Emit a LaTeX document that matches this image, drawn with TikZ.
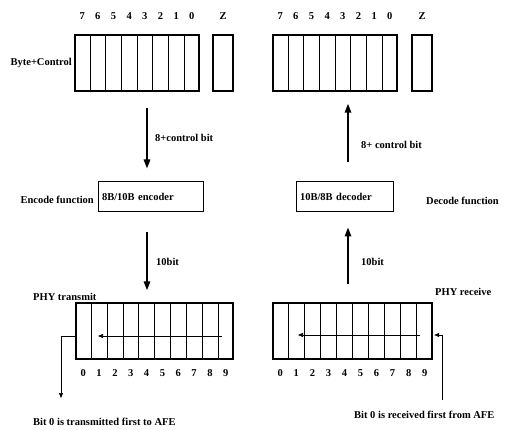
\documentclass[tikz,border=0pt]{standalone}
\usepackage{fontspec}
\setmainfont{Liberation Serif}
\usetikzlibrary{arrows.meta,calc}
\begin{document}
\begin{tikzpicture}[x=1pt,y=-1pt,
  every node/.style={font=\fontsize{10.5}{12}\selectfont\bfseries, inner sep=0pt},
  regbox/.style={draw, line width=1.4pt, minimum height=56pt, inner sep=0pt},
  funcbox/.style={draw, line width=1pt, minimum height=30pt, inner xsep=4pt, align=left},
  divider/.style={line width=0.6pt},
  bigarr/.style={line width=1.6pt, -{Triangle[length=9pt,width=6.5pt]}},
  smallarr/.style={line width=0.6pt, -{Triangle[length=5pt,width=4pt]}}
]
\useasboundingbox (0,0) rectangle (511,430);

% top registers
\node[regbox, minimum width=124pt] (regTL) at (137,63) {};
\node[regbox, minimum width=20pt] (zTL) at (223,63) {};
\node[regbox, minimum width=124pt] (regTR) at (335,63) {};
\node[regbox, minimum width=20pt] (zTR) at (422,63) {};
\foreach \i in {1,...,7} {
  \draw[divider] ($(regTL.north west)!\i/8!(regTL.north east)$) -- ($(regTL.south west)!\i/8!(regTL.south east)$);
  \draw[divider] ($(regTR.north west)!\i/8!(regTR.north east)$) -- ($(regTR.south west)!\i/8!(regTR.south east)$);
}
\foreach \d [count=\i from 0] in {7,6,5,4,3,2,1,0} {
  \node (tl\i) at ($(regTL.north west)!{(\i+0.5)/8}!(regTL.north east) + (0,-18)$) {\d};
  \node (tr\i) at ($(regTR.north west)!{(\i+0.5)/8}!(regTR.north east) + (0,-18)$) {\d};
}
\node (zlabL) at ($(zTL.north) + (0,-18)$) {Z};
\node (zlabR) at ($(zTR.north) + (0,-18)$) {Z};
\node[anchor=east] (bytectl) at (72,63) {Byte+Control};

% function boxes
\node[funcbox, text width=97pt, minimum width=105pt] (enc) at (150.5,197) {8B/10B encoder};
\node[funcbox, text width=89pt, minimum width=97pt] (dec) at (344.5,197) {10B/8B decoder};
\node[anchor=east] (encf) at (94,200) {Encode function};
\node[anchor=west] (decf) at (426,201) {Decode function};

% bottom registers
\node[regbox, minimum width=157pt] (regBL) at (154.5,331) {};
\node[regbox, minimum width=159pt] (regBR) at (352.5,331) {};
\foreach \i in {1,...,9} {
  \draw[divider] ($(regBL.north west)!\i/10!(regBL.north east)$) -- ($(regBL.south west)!\i/10!(regBL.south east)$);
  \draw[divider] ($(regBR.north west)!\i/10!(regBR.north east)$) -- ($(regBR.south west)!\i/10!(regBR.south east)$);
}
\foreach \d in {0,...,9} {
  \node (bl\d) at ($(regBL.south west)!{(\d+0.5)/10}!(regBL.south east) + (0,13)$) {\d};
  \node (br\d) at ($(regBR.south west)!{(\d+0.5)/10}!(regBR.south east) + (0,13)$) {\d};
}
\node[anchor=west] (phyt) at (33,297) {PHY transmit};
\node[anchor=west] (phyr) at (435,292) {PHY receive};

% vertical arrows
\coordinate (xL) at (147,0);
\coordinate (xR) at (348,0);
\draw[bigarr, shorten <=16pt, shorten >=13pt] (regTL.south -| xL) -- (enc.north -| xL);
\draw[bigarr, shorten <=20pt, shorten >=12pt] (enc.south -| xL) -- (regBL.north -| xL);
\draw[bigarr, shorten <=19pt, shorten >=12pt] (dec.north -| xR) -- (regTR.south -| xR);
\draw[bigarr, shorten <=18pt, shorten >=15pt] (regBR.north -| xR) -- (dec.south -| xR);
\node[anchor=west] (l8L) at (155,138) {8+control bit};
\node[anchor=west] (l10L) at (156,262) {10bit};
\node[anchor=west] (l8R) at (361,145) {8+ control bit};
\node[anchor=west] (l10R) at (361,262) {10bit};

% shift arrows inside bottom registers
\coordinate (sLa) at (222,336);
\coordinate (sLb) at (98,336);
\draw[smallarr] (sLa) -- (sLb);
\coordinate (sRa) at (420,335);
\coordinate (sRb) at (298,335);
\draw[smallarr] (sRa) -- (sRb);

% output / input
\coordinate (outc) at (61,336);
\coordinate (oute) at (61,398);
\draw[smallarr] (regBL.west |- outc) -- (outc) -- (oute);
\coordinate (inS) at (442,400);
\coordinate (inC) at (442,335);
\draw[smallarr, shorten >=1.5pt] (inS) -- (inC) -- (regBR.east |- inC);
\node[anchor=west] (txt) at (33,422) {Bit 0 is transmitted first to AFE};
\node[anchor=west] (rxt) at (354,415) {Bit 0 is received first from AFE};
\end{tikzpicture}
\end{document}
